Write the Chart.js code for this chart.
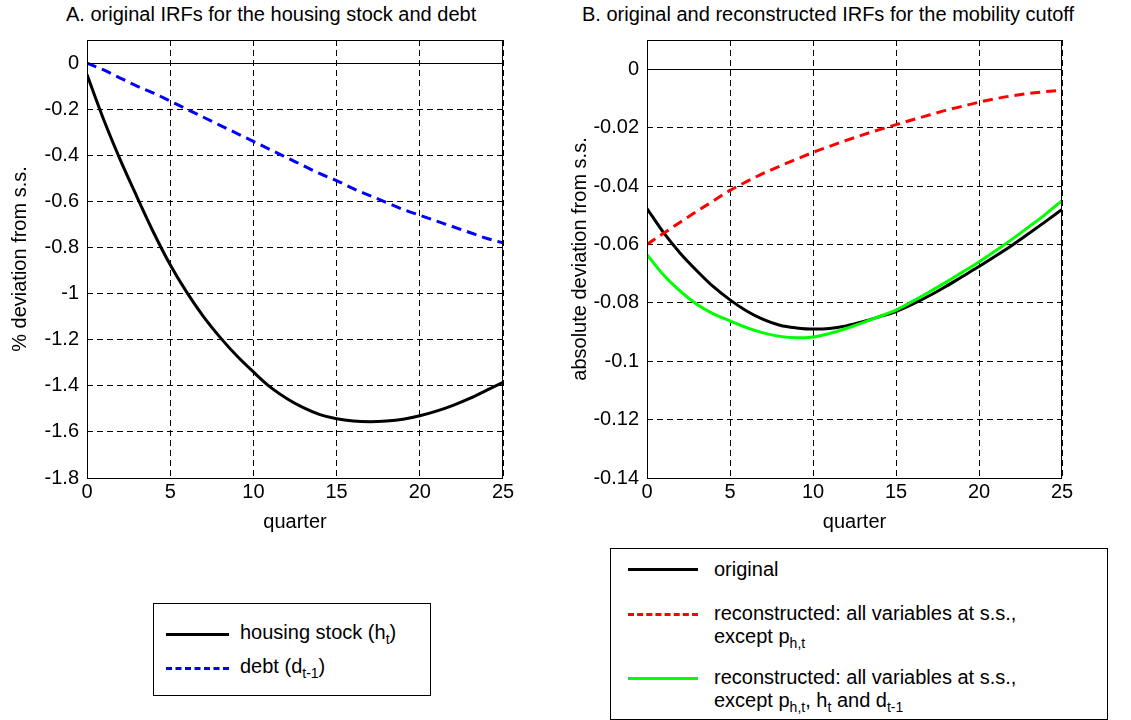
<!DOCTYPE html>
<html>
<head>
<meta charset="utf-8">
<script src="https://cdn.jsdelivr.net/npm/chart.js@4"></script>
<style>
  body { margin: 0; width: 1131px; height: 720px; background: #fff; position: relative; overflow: hidden;
         font-family: "Liberation Sans", Arial, sans-serif; color: #000; }
  canvas { position: absolute; }
  .title { position: absolute; top: 3px; font-size: 20px; white-space: nowrap; }
  .legend { position: absolute; border: 1px solid #000; background: #fff; font-size: 20px; }
  .sw { position: absolute; width: 70px; height: 0; border-top: 3px solid #000; }
  .txt { position: absolute; white-space: nowrap; line-height: 23px; }
  sub { font-size: 14px; vertical-align: -5px; line-height: 0; }
</style>
</head>
<body>
<div class="title" style="left:66px">A. original IRFs for the housing stock and debt</div>
<div class="title" style="left:582px">B. original and reconstructed IRFs for the mobility cutoff</div>
<canvas id="chartA" style="left:0;top:0;width:560px;height:540px" width="560" height="540"></canvas>
<canvas id="chartB" style="left:560px;top:0;width:571px;height:540px" width="571" height="540"></canvas>

<div class="legend" style="left:153px;top:603px;width:276px;height:91px">
  <div class="sw" style="left:12px;width:63px;top:29px"></div>
  <div class="txt" style="left:86px;top:17px">housing stock (h<sub>t</sub>)</div>
  <div class="sw" style="left:12px;width:63px;top:63px;border-top:3px dashed #0000ff"></div>
  <div class="txt" style="left:86px;top:51px">debt (d<sub>t-1</sub>)</div>
</div>
<div class="legend" style="left:610px;top:548px;width:496px;height:170px">
  <div class="sw" style="left:17px;top:19px"></div>
  <div class="txt" style="left:103px;top:9px">original</div>
  <div class="sw" style="left:17px;top:64px;border-top:3px dashed #ff0000"></div>
  <div class="txt" style="left:103px;top:53px">reconstructed: all variables at s.s.,<br>except p<sub>h,t</sub></div>
  <div class="sw" style="left:17px;top:128px;border-top:3px solid #00ff00"></div>
  <div class="txt" style="left:103px;top:117px">reconstructed: all variables at s.s.,<br>except p<sub>h,t</sub>, h<sub>t</sub> and d<sub>t-1</sub></div>
</div>

<script>
const quarters = Array.from({ length: 26 }, (_, i) => i);

const housingStock = [-0.05, -0.245, -0.42, -0.58, -0.735, -0.875, -0.995, -1.1, -1.19, -1.27, -1.34, -1.405, -1.455,
  -1.495, -1.525, -1.543, -1.553, -1.556, -1.553, -1.545, -1.53, -1.51, -1.485, -1.455, -1.42, -1.385];
const debt = [0, -0.03, -0.065, -0.1, -0.13, -0.165, -0.2, -0.235, -0.27, -0.305, -0.34, -0.375, -0.41,
  -0.445, -0.48, -0.51, -0.545, -0.575, -0.605, -0.635, -0.66, -0.685, -0.71, -0.735, -0.76, -0.78];

const original = [-0.0477, -0.056, -0.063, -0.069, -0.0745, -0.079, -0.0828, -0.0857, -0.0877, -0.0886, -0.089,
  -0.0888, -0.0879, -0.0865, -0.0848, -0.083, -0.0805, -0.0776, -0.0744, -0.071, -0.0676, -0.064, -0.0603,
  -0.0563, -0.0522, -0.048];
const reconPrice = [-0.06, -0.0562, -0.0524, -0.0487, -0.0451, -0.0415, -0.0385, -0.0357, -0.0332, -0.0308,
  -0.0285, -0.0264, -0.0244, -0.0225, -0.0207, -0.019, -0.0173, -0.0157, -0.0141, -0.0127, -0.0113, -0.0101,
  -0.0091, -0.0083, -0.0077, -0.0072];
const reconAll = [-0.0635, -0.0705, -0.076, -0.0805, -0.0838, -0.0862, -0.0885, -0.0903, -0.0915, -0.092,
  -0.0917, -0.0905, -0.0888, -0.0868, -0.0847, -0.0825, -0.0795, -0.0763, -0.073, -0.0695, -0.066, -0.0622,
  -0.0582, -0.054, -0.0497, -0.045];

const xTicks = [0, 5, 10, 15, 20, 25];
const yTicksA = [0, -0.2, -0.4, -0.6, -0.8, -1, -1.2, -1.4, -1.6, -1.8];
const yTicksB = [0, -0.02, -0.04, -0.06, -0.08, -0.1, -0.12, -0.14];

const font = { family: '"Liberation Sans", Arial, sans-serif', size: 20 };

// box round the plot area and solid zero line
const frame = {
  id: 'frame',
  afterDatasetsDraw(chart) {
    const { ctx, chartArea: a, scales } = chart;
    ctx.save();
    ctx.strokeStyle = '#000';
    ctx.lineWidth = 1;
    const y0 = Math.round(scales.y.getPixelForValue(0)) + 0.5;
    ctx.beginPath();
    ctx.moveTo(a.left, y0);
    ctx.lineTo(a.right, y0);
    ctx.stroke();
    ctx.strokeRect(a.left + 0.5, a.top + 0.5, a.right - a.left - 1, a.bottom - a.top);
    ctx.restore();
  }
};

function points(ys) {
  return quarters.map((q, i) => ({ x: q, y: ys[i] }));
}

function line(ys, color, dash) {
  return { data: points(ys), borderColor: color, borderWidth: 3, borderDash: dash || [],
           pointRadius: 0, cubicInterpolationMode: 'monotone', fill: false };
}

function makeChart(id, datasets, yMin, yMax, yTicks, yTitle, rightPad) {
  return new Chart(document.getElementById(id), {
    type: 'line',
    data: { datasets },
    options: {
      responsive: false,
      animation: false,
      layout: { padding: { top: 40, right: rightPad, left: 0, bottom: 0 } },
      plugins: { legend: { display: false }, tooltip: { enabled: false } },
      scales: {
        x: {
          type: 'linear', min: 0, max: 25,
          afterBuildTicks: s => { s.ticks = xTicks.map(v => ({ value: v })); },
          afterFit: s => { s.height = 62; },
          ticks: { font, color: '#000', maxRotation: 0, padding: 2 },
          grid: { color: '#000', drawTicks: false },
          border: { dash: [6, 4], display: false },
          title: { display: true, text: 'quarter', font, color: '#000', padding: { top: 0, bottom: 6 } }
        },
        y: {
          type: 'linear', min: yMin, max: yMax,
          afterBuildTicks: s => { s.ticks = yTicks.map(v => ({ value: v })); },
          afterFit: s => { s.width = 87; },
          ticks: { font, color: '#000', padding: 8, callback: v => String(Math.round(v * 1000) / 1000) },
          grid: { color: '#000', drawTicks: false },
          border: { dash: [6, 4], display: false },
          title: { display: true, text: yTitle, font, color: '#000', padding: { top: 8, bottom: 0 } }
        }
      }
    },
    plugins: [frame]
  });
}

makeChart('chartA', [
  line(housingStock, '#000000'),
  line(debt, '#0000ff', [10, 6])
], -1.8, 0.1, yTicksA, '% deviation from s.s.', 57);

makeChart('chartB', [
  line(reconPrice, '#ff0000', [10, 6]),
  line(reconAll, '#00ff00'),
  line(original, '#000000')
], -0.14, 0.01, yTicksB, 'absolute deviation from s.s.', 69);
</script>
</body>
</html>
